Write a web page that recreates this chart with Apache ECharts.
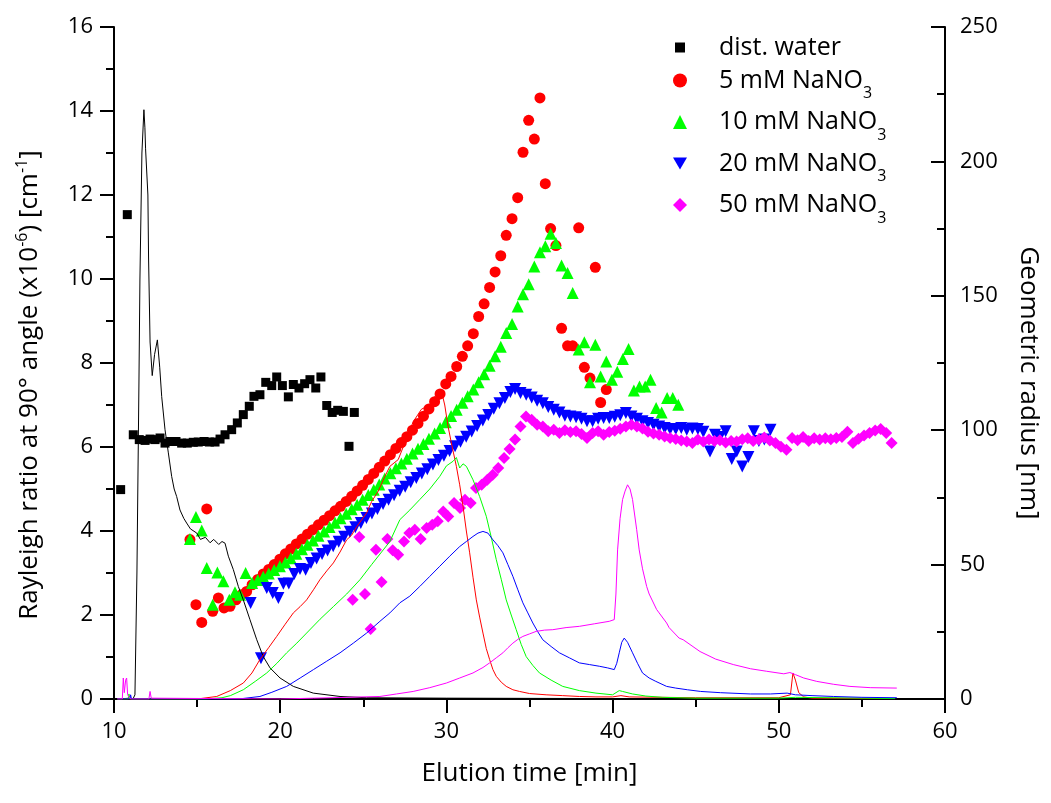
<!DOCTYPE html>
<html><head><meta charset="utf-8">
<script src="https://cdn.jsdelivr.net/npm/echarts@6/dist/echarts.min.js"></script>
<style>html,body{margin:0;padding:0;background:#fff}#c{width:1051px;height:803px}</style>
</head><body><div id="c"></div>
<script>
// ---------- Rayleigh ratio traces (left axis) ----------
const waterTraceT = [10.2, 11.0, 11.14, 11.26, 11.38, 11.5, 11.56, 11.68, 11.8, 11.86, 11.9, 11.99, 12.04, 12.08, 12.17, 12.3, 12.44, 12.61, 12.75, 12.87, 13.07, 13.27, 13.47, 13.62, 13.77, 13.97, 14.2, 14.37, 14.6, 14.98, 15.2, 15.5, 15.78, 16.0, 16.3, 16.5, 16.68, 16.88, 17.18, 17.48, 17.78, 18.18, 18.59, 18.98, 19.39, 19.99, 20.79, 21.99, 23.6, 25.2, 30, 40, 57];
const waterTraceR = [0, 0.02, 0, 0.1, 3, 7.5, 10, 13, 14.03, 13.6, 13.1, 13.1, 12.0, 10.5, 8.5, 7.7, 8.2, 8.55, 7.9, 7.2, 6.41, 5.86, 5.3, 5.0, 4.82, 4.5, 4.3, 4.19, 4.05, 3.95, 3.8, 3.85, 3.72, 3.8, 3.68, 3.75, 3.71, 3.4, 3.08, 2.68, 2.36, 1.89, 1.41, 1.01, 0.74, 0.5, 0.3, 0.14, 0.06, 0.03, 0.02, 0.01, 0.01];

const na5TraceT = [10.2, 15.0, 16.18, 17.0, 17.78, 18.3, 18.78, 19.3, 19.79, 20.3, 20.79, 21.2, 21.59, 22.0, 22.39, 22.8, 23.2, 23.6, 24.0, 24.3, 24.6, 25.2, 25.5, 25.9, 26.3, 26.6, 27.1, 27.5, 28.0, 28.5, 29.0, 29.3, 29.6, 29.75, 29.9, 30.1, 30.35, 30.6, 30.8, 31.0, 31.2, 31.4, 31.6, 31.8, 32.0, 32.2, 32.4, 32.6, 32.8, 33.0, 33.3, 33.6, 34.0, 34.4, 35.0, 36.0, 37.0, 38.0, 39.0, 40.0, 40.5, 41.0, 45.0, 50.0, 50.7, 50.85, 51.0, 51.2, 51.5, 52.0, 57.0];
const na5TraceR = [0, 0, 0.06, 0.2, 0.38, 0.62, 0.94, 1.22, 1.49, 1.78, 2.05, 2.2, 2.36, 2.6, 2.84, 3.05, 3.24, 3.5, 3.79, 3.9, 4.1, 4.43, 4.7, 4.95, 5.3, 5.54, 5.7, 6.1, 6.6, 6.9, 7.0, 7.2, 7.13, 7.25, 7.0, 6.49, 6.0, 5.54, 5.1, 4.59, 4.0, 3.48, 2.9, 2.36, 1.95, 1.57, 1.2, 0.94, 0.7, 0.54, 0.4, 0.3, 0.22, 0.18, 0.13, 0.1, 0.08, 0.06, 0.05, 0.05, 0.08, 0.05, 0.03, 0.03, 0.1, 0.62, 0.45, 0.15, 0.05, 0.02, 0.01];

const na10TraceT = [10.2, 10.85, 10.9, 10.95, 15.5, 16.5, 17.0, 17.78, 18.5, 19.19, 19.8, 20.39, 21.0, 21.59, 22.4, 23.2, 24.0, 24.8, 25.5, 26.2, 26.6, 27.2, 27.8, 28.4, 29.0, 29.6, 30.0, 30.4, 30.6, 30.8, 31.0, 31.2, 31.6, 32.0, 32.4, 32.7, 33.0, 33.3, 33.6, 33.9, 34.2, 34.5, 34.8, 35.2, 35.6, 36.3, 37.0, 38.0, 39.0, 40.0, 40.4, 40.6, 41.2, 42.0, 43.0, 45.0, 50.0, 51.0, 57.0];
const na10TraceR = [0, 0, 0.12, 0, 0, 0.03, 0.08, 0.22, 0.42, 0.62, 0.85, 1.1, 1.33, 1.57, 1.9, 2.2, 2.5, 2.84, 3.2, 3.55, 3.75, 4.27, 4.5, 4.75, 5.0, 5.3, 5.55, 5.66, 5.75, 5.5, 5.6, 5.54, 5.22, 4.82, 4.35, 3.85, 3.32, 2.85, 2.36, 2.0, 1.65, 1.3, 1.01, 0.8, 0.62, 0.45, 0.3, 0.2, 0.14, 0.1, 0.2, 0.18, 0.12, 0.07, 0.04, 0.02, 0.02, 0.04, 0.01];

const na20TraceT = [10.2, 10.95, 11.0, 11.05, 17.5, 18.78, 19.5, 20.39, 21.2, 22.0, 22.8, 23.6, 24.4, 25.2, 26.0, 26.6, 27.2, 27.8, 28.4, 29.0, 29.6, 30.2, 30.8, 31.2, 31.6, 31.9, 32.2, 32.5, 32.8, 33.1, 33.4, 33.7, 34.0, 34.3, 34.6, 34.9, 35.2, 35.5, 35.8, 36.3, 36.8, 37.4, 38.0, 38.6, 39.2, 39.7, 40.1, 40.25, 40.4, 40.55, 40.7, 40.9, 41.2, 41.5, 41.8, 42.2, 42.6, 43.25, 43.8, 44.5, 45.3, 46.5, 48.3, 49.5, 50.5, 51.0, 52.0, 53.3, 55.0, 57.1];
const na20TraceR = [0, 0, 0.1, 0, 0, 0.06, 0.16, 0.3, 0.5, 0.7, 0.9, 1.1, 1.33, 1.57, 1.85, 2.05, 2.29, 2.45, 2.68, 2.92, 3.16, 3.4, 3.63, 3.75, 3.87, 3.95, 3.99, 3.95, 3.79, 3.65, 3.48, 3.2, 2.92, 2.6, 2.29, 2.05, 1.81, 1.6, 1.41, 1.25, 1.1, 0.98, 0.86, 0.82, 0.78, 0.74, 0.7, 0.85, 1.1, 1.35, 1.45, 1.35, 1.1, 0.85, 0.62, 0.5, 0.42, 0.3, 0.26, 0.22, 0.18, 0.15, 0.12, 0.12, 0.14, 0.1, 0.08, 0.06, 0.04, 0.03];

const na50TraceT = [10.2, 10.5, 10.56, 10.62, 10.7, 10.76, 10.82, 10.9, 11.0, 12.1, 12.17, 12.24, 12.3, 20.0, 22.0, 24.0, 26.0, 27.0, 28.0, 29.0, 30.0, 30.8, 31.6, 32.2, 32.6, 33.0, 33.4, 33.7, 34.0, 34.3, 34.6, 35.0, 35.4, 35.9, 36.4, 37.2, 38.0, 38.9, 39.8, 40.1, 40.2, 40.3, 40.45, 40.6, 40.75, 40.9, 41.05, 41.2, 41.45, 41.6, 41.8, 42.05, 42.2, 42.65, 42.8, 43.25, 43.4, 44.0, 44.25, 45.26, 46.2, 47.26, 48.3, 49.27, 50.3, 50.67, 51.0, 51.5, 52.28, 53.3, 54.28, 55.5, 57.1];
const na50TraceR = [0, 0, 0.5, 0.15, 0.45, 0.5, 0.1, 0.05, 0, 0, 0.18, 0.02, 0, 0, 0.02, 0.04, 0.06, 0.12, 0.18, 0.27, 0.38, 0.5, 0.62, 0.75, 0.86, 0.98, 1.1, 1.22, 1.33, 1.42, 1.49, 1.55, 1.61, 1.64, 1.65, 1.7, 1.73, 1.79, 1.85, 1.89, 2.5, 3.55, 4.3, 4.75, 4.95, 5.1, 5.0, 4.75, 4.03, 3.55, 3.1, 2.68, 2.5, 2.13, 2.05, 1.81, 1.7, 1.45, 1.41, 1.13, 0.95, 0.82, 0.72, 0.66, 0.6, 0.63, 0.58, 0.5, 0.42, 0.35, 0.3, 0.27, 0.26];

// ---------- Geometric radius points (right axis) ----------
const waterT = [10.40, 10.80, 11.16, 11.52, 11.87, 12.17, 12.47, 12.77, 13.07, 13.37, 13.73, 14.07, 14.41, 14.77, 15.07, 15.42, 15.74, 16.08, 16.38, 16.68, 17.08, 17.42, 17.78, 18.14, 18.42, 18.78, 19.13, 19.49, 19.79, 20.13, 20.49, 20.79, 21.13, 21.47, 21.79, 22.14, 22.45, 22.80, 23.13, 23.46, 23.80, 24.14, 24.46];
const waterRg = [77.9, 180.2, 98.3, 96.5, 96.2, 96.7, 96.5, 97.1, 95.2, 95.8, 95.8, 95.2, 95.2, 95.5, 95.6, 95.8, 95.6, 95.6, 96.7, 98.3, 100.2, 102.7, 105.8, 108.9, 112.6, 113.2, 117.8, 116.6, 119.8, 116.6, 112.4, 117.0, 115.7, 117.3, 118.8, 115.7, 119.8, 109.2, 106.6, 107.4, 107.0, 94.0, 106.6];

const na5T = [14.57, 14.93, 15.28, 15.58, 15.94, 16.28, 16.62, 16.98, 17.34, 17.68,
  17.98, 18.31, 18.65, 18.98, 19.31, 19.64, 19.98, 20.31, 20.64, 20.97, 21.31, 21.64, 21.97, 22.30, 22.64, 22.97, 23.30, 23.63, 23.97, 24.30, 24.63, 24.96, 25.30, 25.63, 25.96, 26.29, 26.63, 26.96, 27.29, 27.62, 27.96, 28.29, 28.62, 28.95, 29.29,
  29.62, 29.96, 30.28, 30.62, 30.96, 31.28, 31.62, 31.94, 32.27, 32.60, 32.93, 33.27, 33.60, 33.95, 34.29, 34.61, 34.95, 35.29, 35.63,
  35.95, 36.27, 36.59, 36.93, 37.29, 37.60, 37.96, 38.30, 38.64, 38.96, 39.28, 39.62];
const na5Rg = [59.3, 35.1, 28.5, 70.7, 32.6, 37.6, 33.9, 34.5, 36.9, 38.8,
  40.0, 42.5, 44.5, 46.5, 48.2, 50.0, 52.0, 54.0, 55.8, 57.7, 59.5, 61.3, 63.0, 64.8, 66.5, 68.2, 70.0, 71.7, 73.5, 75.4, 77.4, 79.5, 81.7, 83.9, 86.2, 88.5, 90.9, 93.2, 95.4, 97.6, 100.0, 102.5, 105.2, 107.9, 110.6,
  113.5, 117.2, 120.0, 123.7, 127.5, 131.4, 135.9, 142.3, 147.0, 153.1, 158.9, 164.9, 172.5, 178.7, 186.5, 203.4, 215.3, 208.3, 223.6,
  191.7, 175.0, 168.7, 137.9, 131.4, 131.4, 175.3, 123.4, 119.4, 160.6, 110.3, 115.1];

const na10T = [14.57, 14.93, 15.28, 15.58, 15.94, 16.22, 16.58, 16.94, 17.28, 17.58, 17.92,
  18.31, 18.65, 18.98, 19.31, 19.64, 19.98, 20.31, 20.64, 20.97, 21.31, 21.64, 21.97, 22.30, 22.64, 22.97, 23.30, 23.63, 23.97, 24.30, 24.63, 24.96, 25.30, 25.63, 25.96, 26.29, 26.63, 26.96, 27.29, 27.62, 27.96, 28.29, 28.62, 28.95, 29.29,
  29.62, 29.96, 30.28, 30.62, 30.96, 31.28, 31.62, 31.94, 32.27, 32.60, 32.93, 33.27, 33.60, 33.95, 34.29, 34.61, 34.95, 35.29, 35.63,
  35.95, 36.27, 36.59, 36.93, 37.29, 37.60, 37.96, 38.30, 38.64, 38.96, 39.28, 39.62,
  39.96, 40.28, 40.62, 40.96, 41.28, 41.62, 41.96, 42.28, 42.62, 42.95, 43.28, 43.62, 43.95];
const na10Rg = [59.5, 67.7, 62.7, 48.7, 35.1, 47.1, 43.8, 36.9, 39.7, 38.8, 46.9,
  43.2, 44.3, 45.5, 46.7, 48.0, 49.4, 50.8, 52.4, 54.0, 55.7, 57.4, 59.0, 60.7, 62.3, 64.0, 65.6, 67.2, 68.9, 70.6, 72.3, 74.1, 75.9, 77.8, 79.8, 82.0, 84.0, 85.8, 87.6, 89.4, 91.3, 93.1, 94.9, 96.8, 98.8,
  100.8, 103.0, 105.3, 107.6, 110.2, 112.6, 115.1, 117.8, 120.8, 124.0, 127.5, 131.0, 136.2, 139.5, 146.0, 150.6, 154.3, 160.9, 166.2,
  168.4, 173.1, 169.6, 161.3, 158.5, 151.0, 130.0, 132.7, 117.8, 131.8, 120.0, 125.6,
  118.8, 121.7, 126.5, 130.2, 114.8, 116.3, 116.3, 118.8, 108.3, 106.6, 112.0, 112.0, 109.5];

const na20T = [18.22, 18.84, 19.19, 19.55, 19.89, 20.19, 20.52, 20.85, 21.19, 21.53, 21.85,
  22.19, 22.52, 22.85, 23.19, 23.52, 23.85, 24.19, 24.52, 24.85, 25.19, 25.52, 25.85, 26.19, 26.52, 26.85, 27.19, 27.52, 27.85, 28.19, 28.52, 28.85, 29.19, 29.52, 29.85, 30.19, 30.52, 30.85, 31.19, 31.52, 31.85, 32.19, 32.52, 32.85, 33.19, 33.52, 33.85,
  34.13,
  34.46, 34.8, 35.13, 35.46, 35.8, 36.13, 36.46, 36.8, 37.13, 37.46, 37.8, 38.13, 38.46, 38.8, 39.13, 39.46, 39.8, 40.13, 40.46, 40.8, 41.13, 41.46, 41.8, 42.13, 42.46, 42.8, 43.13, 43.46, 43.8, 44.13, 44.46, 44.8, 45.13, 45.46,
  45.86, 46.16, 46.46, 46.8, 47.17, 47.47, 47.8, 48.17, 48.5, 48.8, 49.13, 49.5];
const na20Rg = [35.7, 15.2, 41.3, 39.4, 37.6, 42.9, 43.0, 46.5, 48.4, 48.1, 50.6,
  52.3, 53.9, 55.2, 56.8, 58.5, 60.4, 62.2, 63.9, 65.5, 67.3, 69.0, 70.7, 72.5, 74.1, 75.8, 77.5, 79.0, 80.6, 82.2, 83.9, 85.5, 87.2, 88.9, 90.5, 92.3, 94.0, 95.7, 97.6, 99.5, 101.6, 103.6, 105.7, 108.0, 110.0, 112.0, 114.2,
  115.3,
  113.8, 113.2, 112.2, 111.0, 110.0, 108.6, 107.6, 106.6, 105.4, 105.1, 104.8, 104.3, 103.3, 103.3, 104.3, 104.5, 104.5, 105.0, 105.6, 106.4, 105.1, 104.3, 103.3, 102.7, 102.0, 101.4, 100.8, 100.4, 100.4, 100.8, 100.2, 100.6, 100.4, 99.4,
  92.1, 98.3, 97.5, 99.6, 89.3, 92.1, 86.5, 90.0, 99.6, 96.0, 96.5, 100.2];

const na50T = [24.36, 24.76, 25.1, 25.44, 25.76, 26.1, 26.45, 26.77, 27.1, 27.45, 27.77, 28.1, 28.45, 28.81, 29.15, 29.48, 29.81, 30.11, 30.46, 30.82, 31.12, 31.46, 31.78, 32.12, 32.46, 32.79, 33.12, 33.47, 33.8, 34.13, 34.46, 34.79, 35.13, 35.46,
  35.8, 36.13, 36.46, 36.8, 37.13, 37.46, 37.8, 38.13, 38.46, 38.8, 39.13, 39.46, 39.8, 40.13, 40.46, 40.8, 41.13, 41.46, 41.8, 42.13, 42.46, 42.8, 43.13, 43.46, 43.8, 44.13, 44.46, 44.8, 45.13, 45.46, 45.8, 46.13, 46.46, 46.8, 47.13, 47.46, 47.8, 48.13, 48.46, 48.8, 49.13, 49.46, 49.8, 50.13, 50.46, 50.8, 51.13, 51.46, 51.8, 52.13, 52.46, 52.8, 53.13, 53.46, 53.8, 54.13, 54.46, 54.8, 55.13, 55.46, 55.8, 56.13, 56.46, 56.79];
const na50Rg = [36.9, 60.3, 39.1, 26.0, 55.5, 43.5, 59.5, 55.3, 53.7, 58.6, 61.8, 63.0, 59.5, 63.6, 64.8, 66.1, 69.8, 67.9, 72.9, 71.1, 74.1, 72.9, 78.5, 79.7, 81.6, 83.4, 85.9, 89.7, 93.0, 96.5, 101.4, 105.1, 103.9, 102.0,
  101.4, 99.6, 100.2, 99.0, 100.0, 99.3, 99.6, 98.6, 97.1, 99.0, 99.6, 98.3, 99.3, 99.8, 100.5, 101.4, 102.0, 101.4, 100.6, 99.4, 98.8, 98.3, 97.7, 97.1, 96.7, 96.2, 95.8, 95.2, 96.5, 95.8, 96.5, 96.0, 96.3, 95.4, 96.0, 95.8, 96.6, 97.0, 96.0, 96.5, 97.3, 96.2, 95.2, 93.8, 92.7, 97.1, 96.3, 97.5, 96.0, 97.0, 96.5, 97.0, 96.6, 97.1, 97.5, 99.4, 95.2, 96.8, 98.0, 99.0, 99.9, 100.4, 99.0, 95.2];

// ---------- axis ticks / labels ----------
const xTicks = {min: 10, max: 60, step: 10};
const leftTicks = {min: 0, max: 16, step: 2};
const rightTicks = {min: 0, max: 250, step: 50};
const legendNames = ['dist. water', '5 mM NaNO3', '10 mM NaNO3', '20 mM NaNO3', '50 mM NaNO3'];

const FONT = 'Open Sans';
const zip = (a, b) => a.map((v, i) => [v, b[i]]);

function axisStyle(inside) {
  return {
    axisLine: {show: true, lineStyle: {color: '#000', width: 2}},
    axisTick: {show: true, inside: inside, length: 14, lineStyle: {color: '#000', width: 2}},
    minorTick: {show: true, splitNumber: 2, length: 8, lineStyle: {color: '#000', width: 2}},
    splitLine: {show: false}
  };
}
const labelStyle = {color: '#000', fontSize: 22, fontFamily: FONT};

function traceSeries(name, t, r, color) {
  return {name, type: 'line', xAxisIndex: 0, yAxisIndex: 0, data: zip(t, r),
    symbol: 'none', showSymbol: false, lineStyle: {color, width: 1}, itemStyle: {color}, z: 5, silent: true};
}
function pointSeries(name, t, r, color, symbol, size, rot) {
  return {name, type: 'scatter', xAxisIndex: 0, yAxisIndex: 1, data: zip(t, r),
    symbol, symbolSize: size, symbolRotate: rot || 0, itemStyle: {color, opacity: 1}, z: 3, silent: true};
}

const option = {
  animation: false,
  backgroundColor: '#fff',
  grid: {left: 114, right: 106, top: 27, bottom: 104, containLabel: false},
  xAxis: Object.assign(axisStyle(false), {
    type: 'value', min: xTicks.min, max: xTicks.max, interval: xTicks.step,
    name: 'Elution time [min]', nameLocation: 'middle', nameGap: 62,
    nameTextStyle: {color: '#000', fontSize: 26, fontFamily: FONT},
    axisLabel: Object.assign({margin: 22}, labelStyle)
  }),
  yAxis: [
    Object.assign(axisStyle(false), {
      type: 'value', position: 'left', min: leftTicks.min, max: leftTicks.max, interval: leftTicks.step,
      name: '{a|Rayleigh ratio at 90° angle (x10}{b|-6}{a|) [cm}{b|-1}{a|]}',
      nameLocation: 'middle', nameGap: 68, nameRotate: 90,
      nameTextStyle: {color: '#000', fontSize: 26, fontFamily: FONT, padding: [0, 44, 0, 0],
        rich: {a: {fontSize: 26, fontFamily: FONT, color: '#000'},
               b: {fontSize: 16, fontFamily: FONT, color: '#000', padding: [0, 0, 16, 0]}}},
      axisLabel: Object.assign({margin: 21}, labelStyle)
    }),
    Object.assign(axisStyle(true), {
      type: 'value', position: 'right', min: rightTicks.min, max: rightTicks.max, interval: rightTicks.step,
      name: 'Geometric radius [nm]', nameLocation: 'middle', nameGap: 70, nameRotate: -90,
      nameTextStyle: {color: '#000', fontSize: 26, fontFamily: FONT, padding: [0, 0, 0, 40]},
      axisLabel: Object.assign({margin: 15}, labelStyle)
    })
  ],
  legend: {
    orient: 'vertical', left: 668, top: 30, itemWidth: 14, itemHeight: 14, itemGap: 8,
    data: [
      {name: legendNames[0], icon: 'path://M0,0M14,14M2,2L12,2L12,12L2,12Z'},
      {name: legendNames[1]}, {name: legendNames[2]},
      {name: legendNames[3], icon: 'path://M0,0L14,0L7,12Z'}, {name: legendNames[4]}
    ],
    selectedMode: false,
    textStyle: {color: '#000', fontSize: 25, fontFamily: FONT,
      rich: {
        d: {fontSize: 25, fontFamily: FONT, color: '#000', lineHeight: 36, padding: [0, 0, 0, 27]},
        n: {fontSize: 25, fontFamily: FONT, color: '#000', padding: [0, 0, 0, 27]},
        s: {fontSize: 16, fontFamily: FONT, color: '#000', padding: [26, 0, 0, 0]}
      }},
    formatter: function (name) {
      if (name.slice(-1) === '3') return '{n|' + name.slice(0, -1) + '}{s|3}';
      return '{d|' + name + '}';
    }
  },
  series: [
    pointSeries('dist. water', waterT, waterRg, '#000000', 'rect', 9),
    pointSeries('5 mM NaNO3', na5T, na5Rg, '#ff0000', 'circle', 11),
    pointSeries('10 mM NaNO3', na10T, na10Rg, '#00ff00', 'triangle', 12),
    pointSeries('20 mM NaNO3', na20T, na20Rg, '#0000ff', 'triangle', 12, 180),
    pointSeries('50 mM NaNO3', na50T, na50Rg, '#ff00ff', 'diamond', 12),
    traceSeries('water trace', waterTraceT, waterTraceR, '#000000'),
    traceSeries('5 mM trace', na5TraceT, na5TraceR, '#ff0000'),
    traceSeries('10 mM trace', na10TraceT, na10TraceR, '#00ff00'),
    traceSeries('20 mM trace', na20TraceT, na20TraceR, '#0000ff'),
    traceSeries('50 mM trace', na50TraceT, na50TraceR, '#ff00ff')
  ]
};
const chart = echarts.init(document.getElementById('c'), null, {renderer: 'canvas'});
chart.setOption(option);
</script></body></html>
